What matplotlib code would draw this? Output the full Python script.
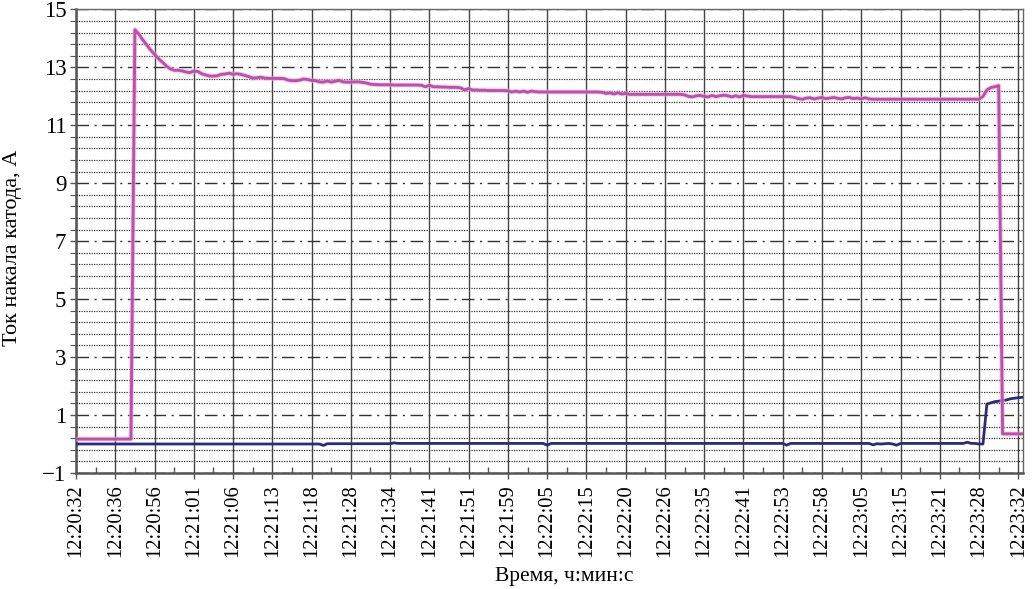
import matplotlib
matplotlib.use("Agg")
import matplotlib.pyplot as plt
from matplotlib.ticker import FixedLocator
import numpy as np

# ---- data (sample index is the categorical x axis) ----
time_labels = ["12:20:32", "12:20:36", "12:20:56", "12:21:01", "12:21:06", "12:21:13",
               "12:21:18", "12:21:28", "12:21:34", "12:21:41", "12:21:51", "12:21:59",
               "12:22:05", "12:22:15", "12:22:20", "12:22:26", "12:22:35", "12:22:41",
               "12:22:53", "12:22:58", "12:23:05", "12:23:15", "12:23:21", "12:23:28",
               "12:23:32"]
label_step = 10  # samples between labels

heater_current = [
    0.17, 0.17, 0.17, 0.17, 0.17, 0.17, 0.17, 0.17, 0.17, 0.17,
    0.17, 0.17, 0.17, 0.17, 0.17, 14.30, 14.15, 13.95, 13.78, 13.60,
    13.45, 13.30, 13.18, 13.05, 12.95, 12.90, 12.90, 12.88, 12.84, 12.82,
    12.87, 12.86, 12.78, 12.74, 12.70, 12.70, 12.71, 12.76, 12.77, 12.80,
    12.76, 12.78, 12.76, 12.72, 12.68, 12.63, 12.64, 12.66, 12.63, 12.62,
    12.62, 12.62, 12.62, 12.61, 12.56, 12.54, 12.54, 12.56, 12.60, 12.58,
    12.55, 12.54, 12.50, 12.49, 12.53, 12.49, 12.52, 12.55, 12.50, 12.49,
    12.49, 12.50, 12.50, 12.48, 12.46, 12.42, 12.41, 12.40, 12.40, 12.40,
    12.40, 12.39, 12.39, 12.39, 12.39, 12.39, 12.39, 12.39, 12.38, 12.33,
    12.38, 12.33, 12.33, 12.32, 12.32, 12.31, 12.31, 12.31, 12.29, 12.22,
    12.27, 12.22, 12.22, 12.21, 12.21, 12.20, 12.20, 12.20, 12.20, 12.20,
    12.19, 12.15, 12.18, 12.15, 12.18, 12.14, 12.18, 12.16, 12.15, 12.15,
    12.15, 12.15, 12.15, 12.15, 12.15, 12.15, 12.15, 12.15, 12.15, 12.15,
    12.15, 12.15, 12.15, 12.15, 12.14, 12.10, 12.12, 12.08, 12.12, 12.08,
    12.10, 12.07, 12.07, 12.07, 12.07, 12.07, 12.07, 12.07, 12.07, 12.07,
    12.07, 12.07, 12.07, 12.07, 12.07, 12.05, 12.00, 11.98, 12.02, 12.03,
    12.00, 11.98, 12.03, 11.99, 12.02, 12.04, 12.02, 11.98, 12.02, 11.98,
    12.03, 12.01, 11.99, 11.99, 11.99, 11.99, 11.99, 11.99, 11.99, 11.99,
    11.99, 11.99, 11.99, 11.96, 11.92, 11.90, 11.94, 11.95, 11.91, 11.94,
    11.96, 11.92, 11.94, 11.96, 11.93, 11.91, 11.95, 11.96, 11.92, 11.94,
    11.91, 11.95, 11.91, 11.90, 11.90, 11.90, 11.90, 11.90, 11.90, 11.90,
    11.90, 11.90, 11.90, 11.90, 11.90, 11.90, 11.90, 11.90, 11.90, 11.90,
    11.90, 11.90, 11.90, 11.90, 11.90, 11.90, 11.90, 11.90, 11.90, 11.90,
    11.90, 12.00, 12.22, 12.30, 12.33, 12.37, 0.35, 0.35, 0.35, 0.35,
    0.35, 0.35,
]

second_current = [
    0.00, 0.00, 0.00, 0.00, 0.00, 0.00, 0.00, 0.00, 0.00, 0.00,
    0.00, 0.00, 0.00, 0.00, 0.00, 0.00, 0.00, 0.00, 0.00, 0.00,
    0.00, 0.00, 0.00, 0.00, 0.00, 0.00, 0.00, 0.00, 0.00, 0.00,
    0.00, 0.00, 0.00, 0.00, 0.00, 0.00, 0.00, 0.00, 0.00, 0.00,
    0.00, 0.00, 0.00, 0.00, 0.00, 0.00, 0.00, 0.00, 0.00, 0.00,
    0.00, 0.00, 0.00, 0.00, 0.00, 0.00, 0.00, 0.00, 0.00, 0.00,
    0.00, 0.00, 0.00, -0.05, 0.01, 0.01, 0.01, 0.01, 0.01, 0.01,
    0.01, 0.01, 0.01, 0.01, 0.01, 0.01, 0.01, 0.01, 0.01, 0.01,
    0.01, 0.04, 0.02, 0.02, 0.02, 0.02, 0.02, 0.02, 0.02, 0.02,
    0.02, 0.02, 0.02, 0.02, 0.02, 0.02, 0.02, 0.02, 0.02, 0.02,
    0.02, 0.02, 0.02, 0.02, 0.02, 0.02, 0.02, 0.02, 0.02, 0.02,
    0.02, 0.02, 0.02, 0.02, 0.02, 0.02, 0.02, 0.02, 0.02, 0.02,
    -0.04, 0.02, 0.02, 0.02, 0.02, 0.02, 0.02, 0.02, 0.02, 0.02,
    0.02, 0.02, 0.02, 0.02, 0.02, 0.02, 0.02, 0.02, 0.02, 0.02,
    0.02, 0.02, 0.02, 0.02, 0.02, 0.02, 0.02, 0.02, 0.02, 0.02,
    0.02, 0.02, 0.02, 0.02, 0.02, 0.02, 0.02, 0.02, 0.02, 0.02,
    0.02, 0.02, 0.02, 0.02, 0.02, 0.02, 0.02, 0.02, 0.02, 0.02,
    0.02, 0.02, 0.02, 0.02, 0.02, 0.02, 0.02, 0.02, 0.02, 0.02,
    0.02, -0.04, 0.02, 0.02, 0.02, 0.02, 0.02, 0.02, 0.02, 0.02,
    0.02, 0.02, 0.02, 0.02, 0.02, 0.02, 0.02, 0.02, 0.02, 0.02,
    0.02, 0.02, 0.02, -0.03, 0.01, 0.00, 0.01, 0.02, 0.00, -0.04,
    0.02, 0.02, 0.02, 0.02, 0.02, 0.02, 0.02, 0.02, 0.02, 0.02,
    0.02, 0.02, 0.02, 0.02, 0.02, 0.02, 0.02, 0.06, 0.02, 0.02,
    0.00, 0.00, 1.38, 1.42, 1.46, 1.48, 1.50, 1.52, 1.56, 1.58,
    1.60, 1.61,
]

y_ticks = [-1, 1, 3, 5, 7, 9, 11, 13, 15]

# ---- figure ----
plt.rcParams['font.family'] = ['Liberation Serif', 'DejaVu Serif']
fig = plt.figure(figsize=(10.34, 5.89), dpi=100)
ax = fig.add_axes([0.0735, 0.197, 0.9155, 0.787])

x_pink = np.arange(len(heater_current))
x_blue = np.arange(len(second_current))
ax.plot(x_blue, second_current, color='#2b2b78', lw=2.0, zorder=3)
ax.plot(x_pink, heater_current, color='#e6b6dc', lw=3.6, zorder=4, alpha=0.6)
ax.plot(x_pink, heater_current, color='#bf4fad', lw=2.1, zorder=5)

n_max = len(heater_current) - 1
ax.set_xlim(0, n_max + 0.1)
ax.set_ylim(-1, 15)

major_x = [i * label_step for i in range(len(time_labels))]
ax.xaxis.set_major_locator(FixedLocator(major_x))
ax.set_xticklabels(time_labels, rotation=90, fontsize=14.8)
ax.xaxis.set_minor_locator(FixedLocator([p + label_step / 2 for p in major_x[:-1]]))

ax.yaxis.set_major_locator(FixedLocator(y_ticks))
ax.set_yticklabels([str(v).replace('-', '\u2212') for v in y_ticks], fontsize=16.5)
minor_y = list(np.round(np.arange(-1, 15.001, 0.4), 2))
ax.yaxis.set_minor_locator(FixedLocator(minor_y))

ax.xaxis.grid(True, which='major', color='#444444', lw=1.0, ls='-')
ax.yaxis.grid(True, which='major', color='#333333', lw=1.0, ls=(0, (9, 4, 1.5, 4)))
ax.yaxis.grid(True, which='minor', color='#333333', lw=0.9, ls=(0, (1, 1)))
ax.set_axisbelow(True)

ax.tick_params(axis='x', which='major', length=4, width=1, color='#555555', pad=4)
ax.tick_params(axis='x', which='minor', direction='in', length=4, width=1, color='#555555')
ax.tick_params(axis='y', which='major', length=4, width=1, color='#555555', pad=3)
ax.tick_params(axis='y', which='minor', length=4, width=0.8, color='#555555')

for side in ['left', 'bottom']:
    ax.spines[side].set_color('#555555')
    ax.spines[side].set_linewidth(1.8)
for side in ['top', 'right']:
    ax.spines[side].set_color('#666666')
    ax.spines[side].set_linewidth(1.0)

fig.text(564 / 1034, 1 - 577 / 589, 'Время, ч:мин:с', fontsize=15.5,
         ha='center', va='center')
fig.text(13 / 1034, 1 - 248 / 589, 'Ток накала катода, А', fontsize=16,
         ha='center', va='center', rotation=90)

fig.savefig('out.png', dpi=100)
